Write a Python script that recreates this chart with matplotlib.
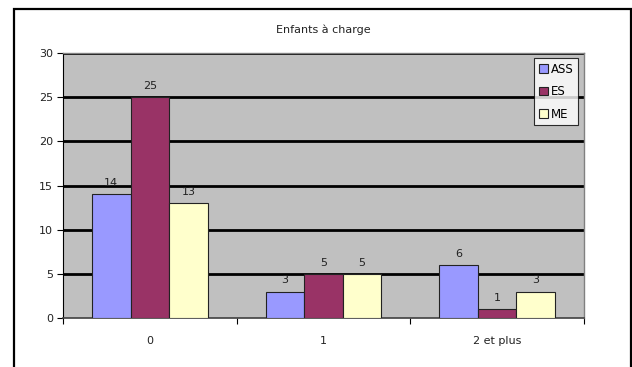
import matplotlib
matplotlib.use("Agg")
import matplotlib.pyplot as plt
from matplotlib.patches import Rectangle
import numpy as np

categories = ["0", "1", "2 et plus"]
series_names = ["ASS", "ES", "ME"]
ass = [14, 3, 6]
es = [25, 5, 1]
me = [13, 5, 3]
title = "Enfants à charge"
colors = ["#9999FF", "#993366", "#FFFFCC"]

W, H = 632, 367
fig = plt.figure(figsize=(W / 100, H / 100), dpi=100)
fig.patch.set_facecolor("white")

# outer chart border
fig.add_artist(Rectangle((14 / W, -0.02), (631 - 14) / W, (H - 9) / H + 0.02,
                         transform=fig.transFigure, fill=False,
                         edgecolor="black", linewidth=1.6))

left, right, top, bottom = 63, 584, 53, 318
ax = fig.add_axes([left / W, 1 - bottom / H, (right - left) / W, (bottom - top) / H])
ax.set_facecolor("#C0C0C0")

x = np.arange(len(categories))
bw = 1 / 4.5
for i, (name, vals) in enumerate(zip(series_names, [ass, es, me])):
    pos = x + (i - 1) * bw
    ax.bar(pos, vals, width=bw, color=colors[i], edgecolor="#222222",
           linewidth=0.8, label=name, zorder=3)
    for p, v in zip(pos, vals):
        ax.annotate(str(v), (p, v), xytext=(0, 4.5), textcoords="offset points",
                    ha="center", va="bottom", fontsize=8, color="#222222", zorder=4)

ax.set_xlim(-0.5, 2.5)
ax.set_ylim(0, 30)
ax.set_yticks(range(0, 31, 5))
ax.set_xticks([-0.5, 0.5, 1.5, 2.5], minor=False)
ax.set_xticklabels([])
ax.set_xticks(x, minor=True)
ax.set_xticklabels(categories, minor=True)
ax.tick_params(axis="x", which="minor", length=0, pad=13, labelsize=8, labelcolor="#222222")
ax.tick_params(axis="x", which="major", length=4, direction="out", width=0.8)
ax.tick_params(axis="y", length=4, direction="out", width=0.8, labelsize=8, pad=3,
               labelcolor="#222222")

for yv in range(5, 31, 5):
    ax.axhline(yv, color="black", linewidth=2.0, zorder=1)

for s in ["top", "right"]:
    ax.spines[s].set_color("#808080")
    ax.spines[s].set_linewidth(1.0)
ax.spines["left"].set_color("black")
ax.spines["left"].set_linewidth(0.8)
ax.spines["bottom"].set_color("#404040")
ax.spines["bottom"].set_linewidth(1.2)
ax.spines["top"].set_zorder(5)

fig.text((left + right) / 2 / W, 1 - 30 / H, title, ha="center", va="center",
         fontsize=8, color="#222222")

leg = ax.legend(loc="upper right", fontsize=8.5, frameon=True, fancybox=False,
                handlelength=0.75, handleheight=0.75, handletextpad=0.25,
                borderpad=0.4, labelspacing=0.8, borderaxespad=0)
leg.set_bbox_to_anchor((578 / W, 1 - 58 / H), transform=fig.transFigure)
leg.get_frame().set_edgecolor("black")
leg.get_frame().set_linewidth(0.8)
leg.get_frame().set_facecolor("white")
leg.set_zorder(6)

fig.savefig("out.png", dpi=100)
